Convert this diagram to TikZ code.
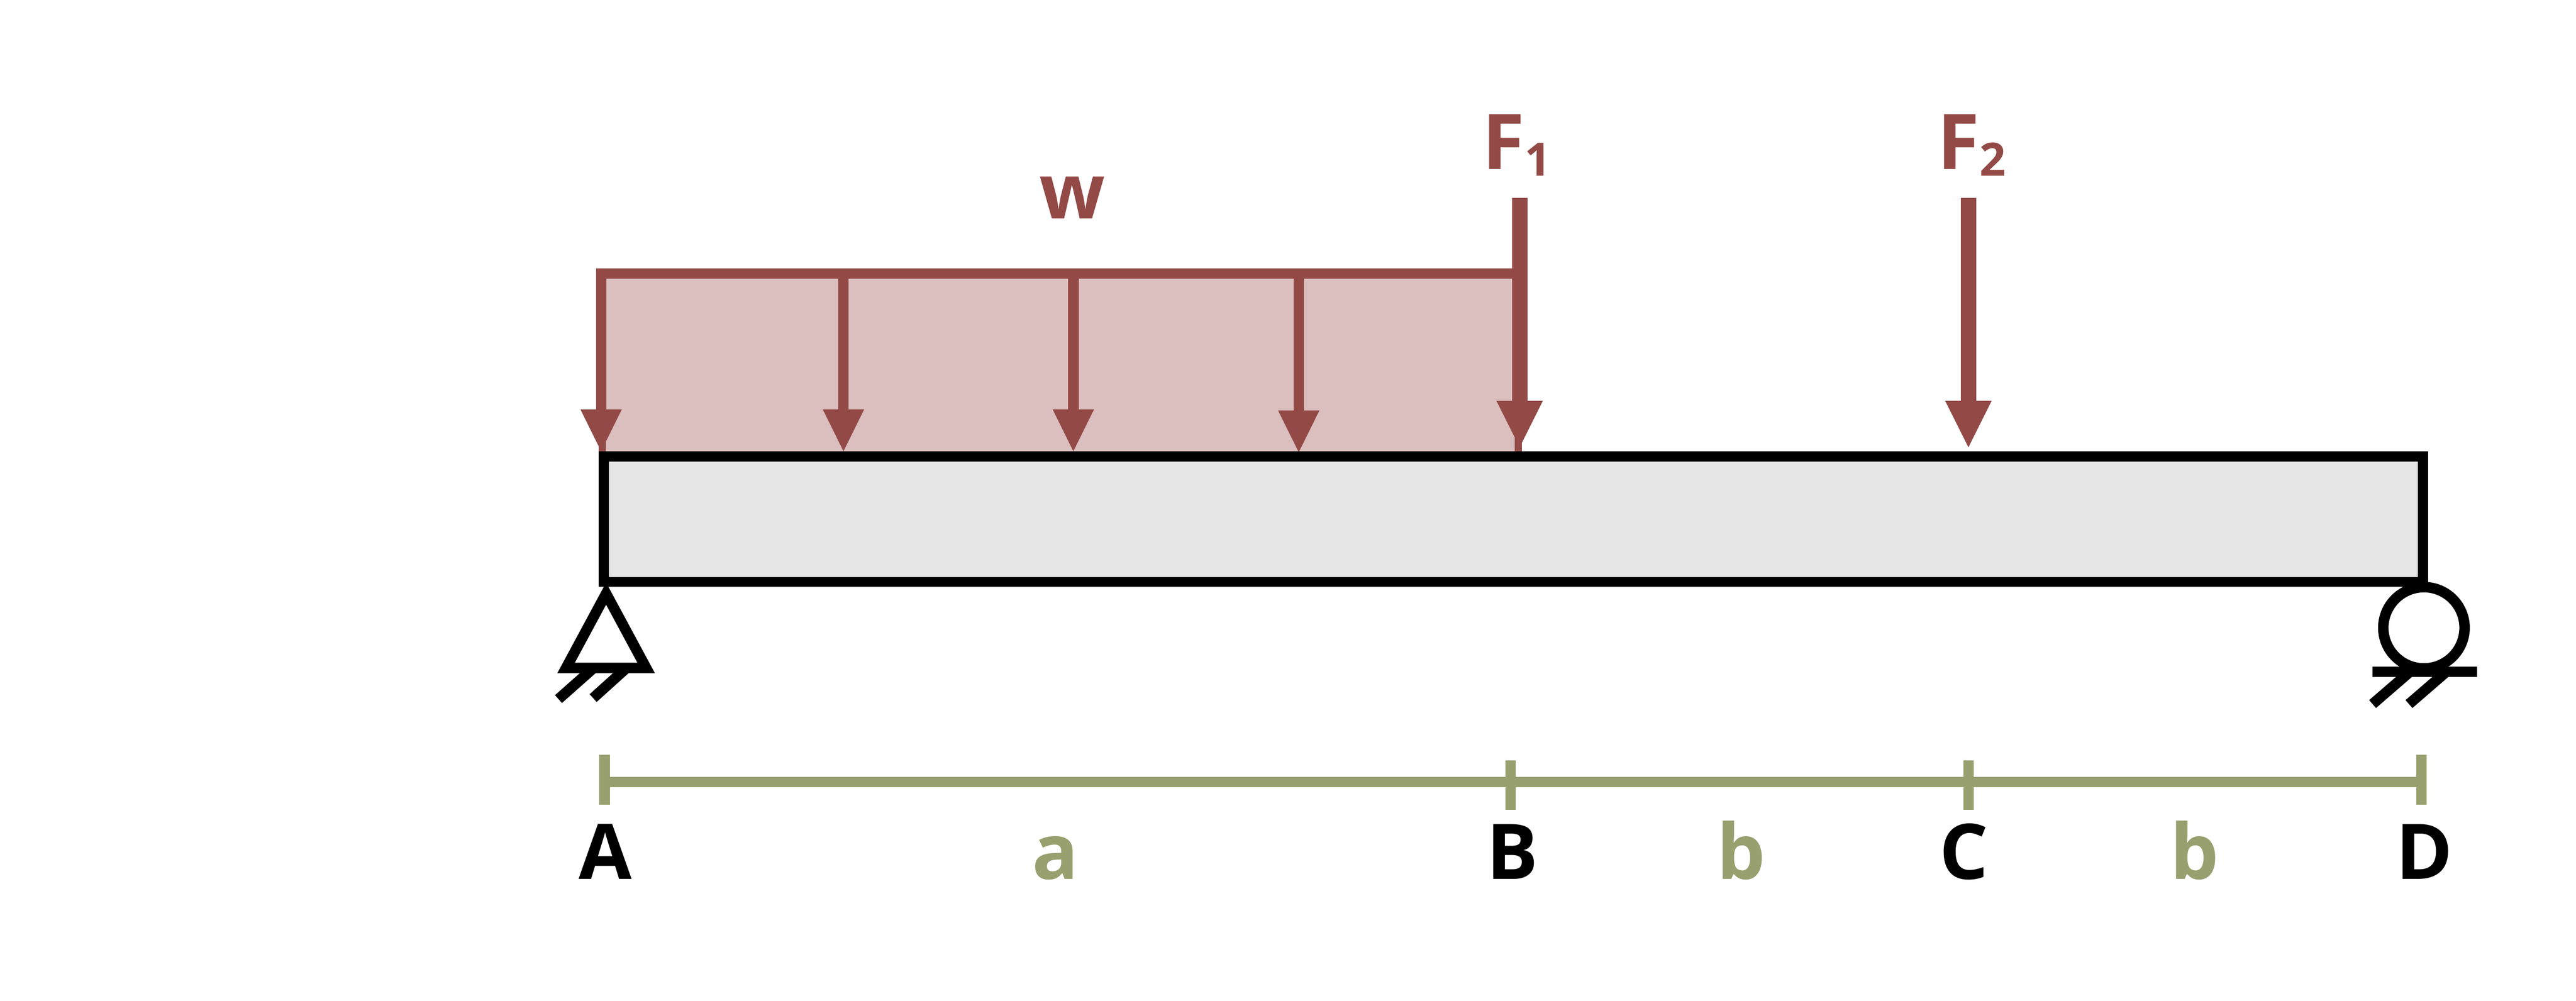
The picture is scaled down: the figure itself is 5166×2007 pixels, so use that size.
\documentclass[tikz,border=0pt]{standalone}
\usepackage{fontspec}
\setmainfont{Open Sans}
\usetikzlibrary{arrows.meta}
\definecolor{loadred}{HTML}{934A46}
\definecolor{loadpink}{HTML}{DBBEBE}
\definecolor{spangreen}{HTML}{99A06F}
\definecolor{beamgray}{HTML}{E6E6E6}
\tikzset{
  smallload/.style={loadred, line width=0.21cm, -{Triangle[length=0.84cm,width=0.83cm,line width=0pt]}},
  bigload/.style={loadred, line width=0.31cm, -{Triangle[length=0.93cm,width=0.93cm,line width=0pt]}},
  stub/.style={loadred, line width=0.14cm},
  heavy/.style={black, line width=0.21cm},
  span/.style={spangreen, line width=0.21cm},
  tag/.style={inner sep=0pt, anchor=base, font=\fontsize{43.8}{50}\selectfont\bfseries},
}
\newcommand{\lowidx}[1]{\raisebox{-0.14cm}{\fontsize{26.2}{30}\selectfont #1}}
\begin{document}
\begin{tikzpicture}[x=0.01cm, y=-0.01cm]
\useasboundingbox (0,0) rectangle (5166,2007);
% distributed load
\fill[loadpink] (1205,559) rectangle (3038,905);
\draw[loadred, line width=0.21cm] (1195,548.5) -- (3040,548.5);
\draw[stub] (1208,880) -- (1208,905);
\draw[stub] (3045,870) -- (3045,905);
\foreach \xa/\ytip in {1205.5/905, 1691.5/905, 2152.5/905, 2604.5/907}
  \draw[smallload] (\xa,540) -- (\xa,\ytip);
% point loads
\coordinate (F1top) at (3047.5,397);
\coordinate (F1tip) at (3047.5,897);
\coordinate (F2top) at (3947.5,397);
\coordinate (F2tip) at (3947.5,897);
\draw[bigload] (F1top) -- (F1tip);
\draw[bigload] (F2top) -- (F2tip);
% beam
\draw[heavy, fill=beamgray, line width=0.205cm] (1210.5,915) rectangle (4859.5,1167);
% pin support
\draw[heavy, fill=white, miter limit=10] (1215.5,1190.5) -- (1135.25,1339.5) -- (1295.75,1339.5) -- cycle;
\draw[heavy] (1120,1402) -- (1190,1340);
\draw[heavy] (1189.5,1400) -- (1256,1340);
% roller support
\draw[heavy, fill=white] (4861,1259) circle (81.5);
\draw[heavy] (4758,1347.5) -- (4968,1347.5);
\draw[heavy] (4758,1412) -- (4832,1348);
\draw[heavy] (4831,1412) -- (4905,1348);
% span line
\draw[span] (1212,1568.5) -- (4856,1568.5);
\foreach \xa/\ya/\yb in {1212.5/1514/1614, 3029/1525/1624, 3947.5/1525/1624, 4856/1514/1614}
  \draw[span] (\xa,\ya) -- (\xa,\yb);
% labels
\node[tag, loadred] (wlabel) at (2150.5,439) {w};
\node[tag, loadred, anchor=base west] (F1label) at (2972,339) {F\lowidx{1}};
\node[tag, loadred, anchor=base west] (F2label) at (3885,339) {F\lowidx{2}};
\node[tag] (Alabel) at (1214,1763) {A};
\node[tag] (Blabel) at (3033,1763) {B};
\node[tag] (Clabel) at (3938,1763) {C};
\node[tag] (Dlabel) at (4862,1763) {D};
\node[tag, spangreen] (alabel) at (2117,1763) {a};
\node[tag, spangreen] (blabel) at (3492,1763) {b};
\node[tag, spangreen] (clabel) at (4401,1763) {b};
\end{tikzpicture}
\end{document}
